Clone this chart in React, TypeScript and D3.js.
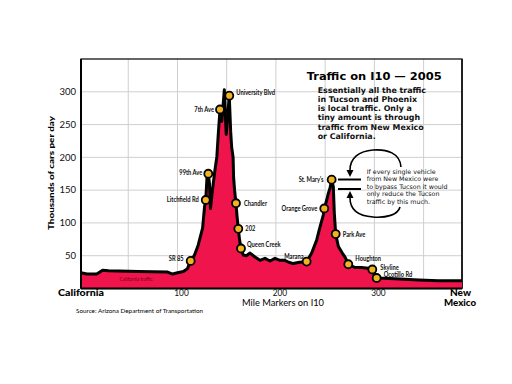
import React from "react";
import * as d3 from "d3";

// ---- data ----
const profileMiles = [2, 8, 18, 24, 30, 60, 90, 95, 100, 106, 110, 113.4, 117, 121, 125.5, 127.5, 128.7, 130, 131.3, 132.5, 133.5, 135.5, 138, 140, 141.5, 143.2, 145, 147.6, 149.5, 152.6, 154, 155, 156.5, 157, 158, 159.4, 160.5, 161.8, 163, 164.5, 166.8, 170, 173.7, 178.7, 183.8, 188.9, 194, 199, 204, 209, 213, 217.6, 224, 231.2, 236.3, 241.4, 244.8, 248.1, 249.1, 251.6, 253.2, 254.9, 256.6, 258.3, 259.3, 260.7, 263.4, 267.4, 270.2, 273.5, 280.3, 287, 293.8, 297.9, 300.5, 302.3, 310, 326, 345, 365, 389];
const profileTraffic = [24, 22, 22, 28, 27, 26, 25, 22, 24, 26, 30, 42, 50, 66, 92, 125, 135, 170, 175, 160, 122, 150, 180, 201, 237, 273, 255, 303, 235, 294, 240, 216, 200, 170, 150, 130, 110, 91, 75, 61, 51, 50, 54, 48, 43, 46, 42, 46, 43, 43, 40, 38, 40, 41, 54, 74, 94, 112, 122, 135, 145, 153, 166, 155, 115, 83, 64, 54, 48, 37, 32, 32, 31, 29, 20, 16, 15.6, 14.5, 13, 12, 12];

const stopNames = ["University Blvd", "7th Ave", "99th Ave", "Litchfield Rd", "Chandler", "202", "Queen Creek", "SR 85", "Marana", "Orange Grove", "St. Mary's", "Park Ave", "Houghton", "Skyline", "Ocotillo Rd"];
const stopMiles = [152.6, 143.2, 131.3, 128.7, 159.4, 161.8, 164.5, 113.4, 231.2, 249.1, 256.6, 260.7, 273.5, 297.9, 302.3];
const stopTraffic = [294, 273, 175, 135, 130, 91, 61, 42, 41, 122, 166, 83, 37, 29, 16];

const xTicks = [100, 200, 300];
const xGrid = [50, 100, 150, 200, 250, 300, 350];
const yTicks = [50, 100, 150, 200, 250, 300];

const titleText = "Traffic on I10 \u2014 2005";
const bodyLines = ["Essentially all the traffic", "in Tucson and Phoenix", "is local traffic.  Only a", "tiny amount is through", "traffic from New Mexico", "or California."];
const noteLines = ["If every single vehicle", "from New Mexico were", "to bypass Tucson it would", "only reduce the Tucson", "traffic by this much."];

// label placement (layout): [dx, dy, anchor]
const labelLayout: Record<string, [number, number, string]> = {
  "University Blvd": [7, -3, "start"],
  "7th Ave": [-6, 0, "end"],
  "99th Ave": [-6, -1, "end"],
  "Litchfield Rd": [-7, 0, "end"],
  "Chandler": [8, 0, "start"],
  "202": [7, 0, "start"],
  "Queen Creek": [6, -4, "start"],
  "SR 85": [-7, -2, "end"],
  "Marana": [-3, -5, "end"],
  "Orange Grove": [-7, 0, "end"],
  "St. Mary's": [-8, 0, "end"],
  "Park Ave": [7, 0, "start"],
  "Houghton": [7, -6, "start"],
  "Skyline": [8, -2, "start"],
  "Ocotillo Rd": [7, -4, "start"],
};

const FILL = "#EF144B";
const GOLD = "#F2B320";
const sans = "Lato, 'Open Sans', sans-serif";
const dv = "'DejaVu Sans', sans-serif";

export default function App() {
  const x = d3.scaleLinear().domain([2, 389]).range([81, 462]);
  const y = d3.scaleLinear().domain([0, 350]).range([288.5, 59]);
  const pts = profileMiles.map((m, i) => [m, profileTraffic[i]] as [number, number]);
  const area = d3.area<[number, number]>().x(d => x(d[0])).y0(y(0)).y1(d => y(d[1]));
  const line = d3.line<[number, number]>().x(d => x(d[0])).y(d => y(d[1]));

  return (
    <div style={{ position: "fixed", left: 0, top: 0 }}>
      <svg width={512} height={384} style={{ display: "block", background: "#fff" }}>
        {/* grid */}
        {xGrid.map(g => (
          <line key={"xg" + g} x1={x(g)} x2={x(g)} y1={y(350)} y2={y(0)} stroke="#cfcfcf" strokeWidth={1} />
        ))}
        {yTicks.map(g => (
          <line key={"yg" + g} x1={x(2)} x2={x(389)} y1={y(g)} y2={y(g)} stroke="#cfcfcf" strokeWidth={1} />
        ))}
        {/* frame */}
        <rect x={x(2)} y={y(350)} width={x(389) - x(2)} height={y(0) - y(350)} fill="none" stroke="#000" strokeWidth={1.2} />
        <line x1={x(389)} x2={x(389)} y1={y(350)} y2={y(0)} stroke="#222" strokeWidth={2} />

        {/* area */}
        <path d={area(pts) || ""} fill={FILL} />
        <path d={line(pts) || ""} fill="none" stroke="#000" strokeWidth={3} strokeLinejoin="round" />
        <line x1={x(2)} x2={x(389)} y1={y(0)} y2={y(0)} stroke="#000" strokeWidth={2} />
        <line x1={x(2)} x2={x(2)} y1={y(350)} y2={y(0)} stroke="#000" strokeWidth={2} />

        <text transform="translate(136,280.5) scale(0.85,1)" fontSize={5.5} fill="#7a0010" textAnchor="middle" fontFamily={sans}>California traffic</text>

        {/* markers */}
        {stopNames.map((n, i) => {
          const cx = x(stopMiles[i]);
          const cy = y(stopTraffic[i]);
          const [dx, dy, anchor] = labelLayout[n];
          return (
            <g key={n}>
              <circle cx={cx} cy={cy} r={4} fill={GOLD} stroke="#000" strokeWidth={1.8} />
              <text transform={`translate(${cx + dx},${cy + dy + 2.5}) scale(0.8,1)`} fontSize={7.2} fontWeight={700} fontFamily={sans} textAnchor={anchor as any} fill="#111">{n}</text>
            </g>
          );
        })}

        {/* y axis labels */}
        {yTicks.map(t => (
          <text key={"yt" + t} x={76} y={y(t) + 3.3} fontSize={9.5} textAnchor="end" fontFamily={sans} fill="#111">{t}</text>
        ))}
        <text transform={`translate(54,173) rotate(-90)`} fontSize={8} fontWeight={900} textAnchor="middle" fontFamily={sans} textLength={114} lengthAdjust="spacingAndGlyphs">Thousands of cars per day</text>

        {/* x axis labels */}
        {xTicks.map(t => (
          <text key={"xt" + t} x={x(t) + 4} y={295.5} fontSize={8.5} textAnchor="middle" fontFamily={sans} fill="#111" textLength={14.5} lengthAdjust="spacingAndGlyphs">{t}</text>
        ))}
        <text x={58} y={296} fontSize={8.5} fontWeight={900} fontFamily={sans} textLength={46} lengthAdjust="spacingAndGlyphs">California</text>
        <text x={460.5} y={295.5} fontSize={8.5} fontWeight={900} fontFamily={sans} textAnchor="middle" textLength={21} lengthAdjust="spacingAndGlyphs">New</text>
        <text x={460} y={306} fontSize={8.5} fontWeight={900} fontFamily={sans} textAnchor="middle" textLength={32} lengthAdjust="spacingAndGlyphs">Mexico</text>
        <text x={283} y={306} fontSize={8.5} fontFamily={sans} textAnchor="middle" textLength={82} lengthAdjust="spacingAndGlyphs">Mile Markers on I10</text>
        <text x={76} y={313} fontSize={6.5} fontFamily={sans} textLength={127} lengthAdjust="spacingAndGlyphs">Source: Arizona Department of Transportation</text>

        {/* title & text */}
        <text x={306.7} y={80} fontSize={10.5} fontWeight={700} fontFamily={dv} textLength={135} lengthAdjust="spacingAndGlyphs">{titleText}</text>
        {bodyLines.map((l, i) => (
          <text key={"b" + i} x={317.7} y={92.5 + i * 9.3} fontSize={7.9} fontWeight={700} fontFamily={dv} fill="#111">{l}</text>
        ))}
        {noteLines.map((l, i) => (
          <text key={"n" + i} x={366.7} y={173.5 + i * 7.6} fontSize={6.3} fontFamily={dv} fill="#111">{l}</text>
        ))}

        {/* arrows */}
        <path d="M 401,167 C 400,153 387,149 373,150 C 359,151 350,158 350,170" fill="none" stroke="#000" strokeWidth={1.6} />
        <polygon points="346.5,170 353.5,170 350,177" fill="#000" />
        <path d="M 400,207 C 398,215 386,218 373,217 C 359,216 350,210 350,198" fill="none" stroke="#000" strokeWidth={1.6} />
        <polygon points="346.5,198 353.5,198 350,191" fill="#000" />
        <line x1={338} x2={361} y1={179.5} y2={179.5} stroke="#000" strokeWidth={2} />
        <line x1={338} x2={361} y1={189} y2={189} stroke="#000" strokeWidth={2} />
      </svg>
    </div>
  );
}
